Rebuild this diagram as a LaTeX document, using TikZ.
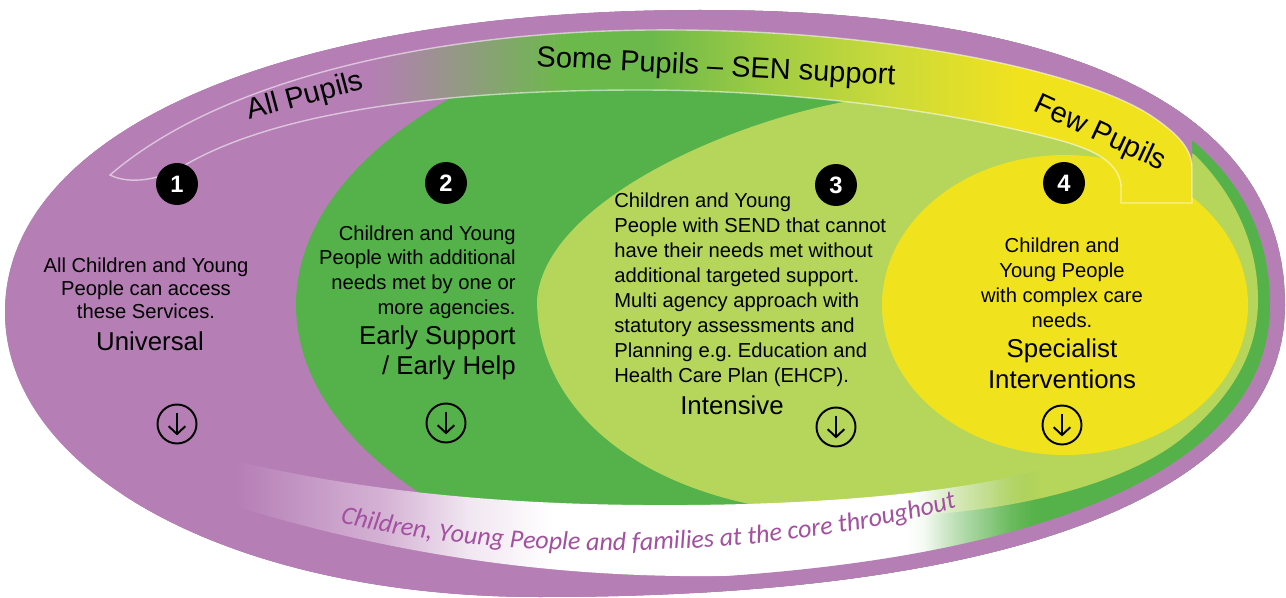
\documentclass[tikz,border=0pt]{standalone}
\usepackage{fontspec}
\setmainfont{Liberation Sans}
\newfontfamily\corefont{Carlito}
\usetikzlibrary{arrows.meta,decorations.text,fadings}

\definecolor{eggpurple}{HTML}{B57EB5}
\definecolor{levelgreen}{HTML}{55B24A}
\definecolor{levellime}{HTML}{B5D55B}
\definecolor{levelyellow}{HTML}{F1E21E}
\definecolor{bandgreen}{HTML}{6CB94B}
\definecolor{bandmid}{HTML}{9CCB43}
\definecolor{bandlime}{HTML}{CBDA3A}
\definecolor{corelilac}{HTML}{D5B3D5}
\definecolor{corepale}{HTML}{F1E6F1}
\definecolor{coremint}{HTML}{D2E8CB}
\definecolor{coregreen}{HTML}{7DBF55}
\definecolor{coretext}{HTML}{A2509F}

\pgfdeclarehorizontalshading{pupilshade}{100bp}{color(0bp)=(eggpurple); color(37bp)=(eggpurple);
  color(46bp)=(bandgreen); color(50bp)=(bandgreen); color(55bp)=(bandmid); color(61bp)=(bandlime);
  color(67bp)=(levelyellow); color(100bp)=(levelyellow)}
\pgfdeclarehorizontalshading{coreshade}{100bp}{color(0bp)=(eggpurple); color(27bp)=(eggpurple);
  color(36bp)=(corelilac); color(41bp)=(corepale); color(46bp)=(white); color(67bp)=(white);
  color(72bp)=(coremint); color(75bp)=(coregreen); color(100bp)=(coregreen)}
\pgfdeclarehorizontalshading{coreendmask}{100bp}{color(0bp)=(pgftransparent!0); color(68bp)=(pgftransparent!0);
  color(75bp)=(pgftransparent!100); color(100bp)=(pgftransparent!100)}
\pgfdeclarefading{coreend}{\pgfuseshading{coreendmask}}

\tikzset{
  egg/.style={insert path={(5,312) .. controls +(0,-181) and +(-417,0) .. (700,10)
    .. controls +(380,0) and +(0,-192) .. (1285,305)
    .. controls +(0,190) and +(470,0) .. (540,597)
    .. controls +(-310,0) and +(0,160) .. (5,312) -- cycle}},
  pupilband/.style={insert path={(110,175) .. controls (220,80) and (430,32) .. (650,30)
    .. controls (880,28) and (1080,70) .. (1150,115) .. controls (1180,135) and (1192,150) .. (1192,168)
    -- (1192,203) -- (1121,203) -- (1121,185) .. controls (1118,160) and (1090,148) .. (1051,138)
    .. controls (950,112) and (800,90) .. (640,90) .. controls (450,90) and (280,110) .. (185,165)
    .. controls (160,180) and (130,185) .. (110,175) -- cycle}},
  coreband/.style={insert path={(200,452) .. controls (380,500) and (560,506) .. (690,505)
    .. controls (830,504) and (960,492) .. (1040,470) -- (1040,535)
    .. controls (930,568) and (800,578) .. (680,576) .. controls (520,574) and (360,548) .. (200,495) -- cycle}},
  bandedge/.style={draw=white, draw opacity=0.55, line width=0.8pt},
  numdot/.style={circle, fill=black, text=white, minimum size=0.84cm, inner sep=0pt,
    font=\bfseries\fontsize{13.5}{14}\selectfont},
  downdot/.style={circle, draw=black, line width=1.1pt, minimum size=0.78cm, inner sep=0pt},
  downtip/.style={line width=1.1pt, -{Straight Barb[length=4.5pt,width=9.5pt]}},
  bodytext/.style={inner sep=0pt},
  leveltext/.style={inner sep=0pt},
  bandtext/.style={inner sep=0pt, font=\fontsize{16.5}{18}\selectfont},
}

\begin{document}
\begin{tikzpicture}[x=0.02cm, y=-0.02cm]
  % Sizes
  \pgfmathsetmacro{\ring}{17}
  \pgfmathsetmacro{\tip}{6.5}
  \useasboundingbox (0,0) rectangle (1286,598);

  \begin{scope}
    \path[clip, egg];
    % levels
    \fill[eggpurple, egg];
    \fill[levelgreen] (856,305) ellipse [x radius=560, y radius=300];
    \fill[levellime] (900,95) .. controls (780,100) and (545,190) .. (537,300)
      .. controls (537,410) and (640,495) .. (800,512)
      .. controls (950,528) and (1110,495) .. (1180,440)
      .. controls (1235,395) and (1258,350) .. (1258,300)
      .. controls (1258,245) and (1235,195) .. (1195,155)
      .. controls (1120,110) and (1000,95) .. (900,95) -- cycle;
    \fill[levelyellow] (1065,305) ellipse [x radius=183, y radius=150];

    % purple above and below the bands
    \fill[eggpurple] (60,175) -- (110,175) .. controls (220,80) and (430,32) .. (650,30)
      .. controls (880,28) and (1080,70) .. (1150,115) .. controls (1180,135) and (1192,150) .. (1192,168)
      -- (1192,-30) -- (60,-30) -- cycle;
    \fill[eggpurple] (1040,535) .. controls (930,568) and (800,578) .. (680,576)
      .. controls (520,574) and (360,548) .. (200,495) -- (100,495) -- (100,640) -- (1040,640) -- cycle;

    % bands
    \shade[shading=pupilshade, pupilband];
    \draw[bandedge, pupilband];
    \shade[shading=coreshade, path fading=coreend, coreband];

    \draw[eggpurple, line width=\ring pt, egg];
  \end{scope}

  % vertices
  \node[numdot] (n1) at (177,184) {1};
  \node[numdot] (n2) at (446,183) {2};
  \node[numdot] (n3) at (836,185) {3};
  \node[numdot] (n4) at (1064,183) {4};

  \node[downdot] (a1) at (177,424) {};
  \node[downdot] (a2) at (446,423) {};
  \node[downdot] (a3) at (836,427) {};
  \node[downdot] (a4) at (1062,425) {};
  \foreach \a in {a1,a2,a3,a4}
    \draw[downtip] ([yshift=\tip pt]\a.center) -- ([yshift=-\tip pt]\a.center);

  % labels
  \node[bandtext, rotate=15] (all) at (305,97) {All Pupils};
  \node[bandtext, rotate=-3] (some) at (716,68) {Some Pupils -- SEN support};
  \node[bandtext, rotate=-25] (few) at (1100,134) {Few Pupils};

  \node[bodytext, align=center, font=\fontsize{11.5}{13}\selectfont] (d1) at (146,288)
    {All Children and Young\\People can access\\these Services.};
  \node[leveltext, font=\fontsize{14.7}{17}\selectfont] (u1) at (150,341) {Universal};

  \node[bodytext, align=right, anchor=east, font=\fontsize{11.5}{14}\selectfont] (d2) at (516,272)
    {Children and Young\\People with additional\\needs met by one or\\more agencies.};
  \node[leveltext, align=right, anchor=east, font=\fontsize{14.7}{17}\selectfont] (u2) at (516,353)
    {Early Support\\/ Early Help};

  \node[bodytext, align=left, anchor=west, font=\fontsize{11.5}{14.2}\selectfont] (d3) at (614,290)
    {Children and Young\\People with SEND that cannot\\have their needs met without\\additional targeted support.\\Multi agency approach with\\statutory assessments and\\Planning e.g.\ Education and\\Health Care Plan (EHCP).};
  \node[leveltext, font=\fontsize{14.7}{17}\selectfont] (u3) at (732,405) {Intensive};

  \node[bodytext, align=center, font=\fontsize{11.5}{14.3}\selectfont] (d4) at (1062,283)
    {Children and\\Young People\\with complex care\\needs.};
  \node[leveltext, align=center, font=\fontsize{14.7}{17.5}\selectfont] (u4) at (1062,364)
    {Specialist\\Interventions};

  \path[decorate, decoration={text along path, text color=coretext, text align=left,
      text={|\corefont\itshape\fontsize{14.8}{16}\selectfont|Children, Young People and families at the core throughout}}]
    (340,522) .. controls (480,560) and (760,565) .. (965,505);
\end{tikzpicture}
\end{document}
